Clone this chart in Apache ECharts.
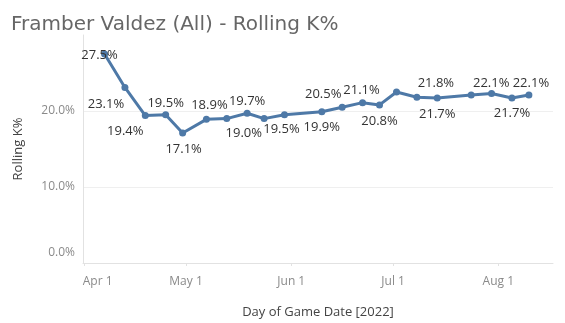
<!DOCTYPE html>
<html>
<head>
<meta charset="utf-8">
<script src="https://cdn.jsdelivr.net/npm/echarts@6/dist/echarts.min.js"></script>
<style>
  html, body { margin: 0; padding: 0; background: #fff; }
  #chart { width: 565px; height: 323px; }
</style>
</head>
<body>
<div id="chart"></div>
<script>
// Start dates and rolling strikeout rate (%) after each start
const startDates = [
  '2022-04-07', '2022-04-13', '2022-04-19', '2022-04-25', '2022-04-30',
  '2022-05-07', '2022-05-13', '2022-05-19', '2022-05-24', '2022-05-30',
  '2022-06-10', '2022-06-16', '2022-06-22', '2022-06-27', '2022-07-02',
  '2022-07-08', '2022-07-14', '2022-07-24', '2022-07-30', '2022-08-05',
  '2022-08-10'
];
const rollingK = [
  27.5, 23.1, 19.4, 19.5, 17.1,
  18.9, 19.0, 19.7, 19.0, 19.5,
  19.9, 20.5, 21.1, 20.8, 22.5,
  21.8, 21.7, 22.1, 22.3, 21.7,
  22.1
];
// Starts whose value is printed next to the marker
const labelled = [
  true, true, true, true, true,
  true, true, true, false, true,
  true, true, true, true, false,
  true, true, true, false, true,
  true
];

// Axis ticks
const xTickDates = ['2022-04-01', '2022-05-01', '2022-06-01', '2022-07-01', '2022-08-01'];
const xTickLabels = ['Apr 1', 'May 1', 'Jun 1', 'Jul 1', 'Aug 1'];
const yTicks = [0, 10, 20];

// Label placement (pixel offsets of the label centre from the marker centre)
const labelOffsets = [
  [-5, 1], [-19, 17], [-20, 16], [0, -12], [1, 16],
  [3, -14], [17, 15], [0, -12], [0, 0], [-3, 14],
  [0, 16], [-19, -13], [-1, -12], [0, 16], [0, 0],
  [19, -14], [0, 16], [20, -12], [0, 0], [0, 15],
  [2, -12]
];
const SYMBOL = 7;

// Dates are placed on a linear axis measured in days since 1 Jan 2022 (UTC)
const DAY = 86400000;
function toDay(s) {
  const p = s.split('-').map(Number);
  return (Date.UTC(p[0], p[1] - 1, p[2]) - Date.UTC(2022, 0, 1)) / DAY;
}
const xTickDays = xTickDates.map(toDay);
const apr1 = toDay('2022-04-01');

const seriesData = startDates.map((d, i) => ({
  value: [toDay(d), rollingK[i]],
  label: {
    show: labelled[i],
    // position is relative to the marker's bounding box corner
    position: [SYMBOL / 2 + labelOffsets[i][0], SYMBOL / 2 + labelOffsets[i][1]],
    align: 'center',
    verticalAlign: 'middle'
  }
}));

const FONT = '"Open Sans", sans-serif';

const chart = echarts.init(document.getElementById('chart'), null, { renderer: 'canvas' });
chart.setOption({
  animation: false,
  backgroundColor: '#fff',
  title: {
    text: 'Framber Valdez (All) - Rolling K%',
    left: 6,
    top: 10,
    textStyle: {
      fontFamily: '"DejaVu Sans", sans-serif',
      fontSize: 20,
      fontWeight: 'normal',
      color: '#666'
    }
  },
  grid: { left: 83, right: 12, top: 35, bottom: 60, outerBoundsMode: 'none' },
  xAxis: {
    type: 'value',
    min: apr1 - 0.35,
    max: apr1 + 138.1,
    name: 'Day of Game Date [2022]',
    nameLocation: 'middle',
    nameGap: 43,
    nameTextStyle: { fontFamily: FONT, fontSize: 13, color: '#444' },
    axisLine: { show: true, lineStyle: { color: '#e2e2e2', width: 1 } },
    axisTick: {
      show: true,
      customValues: xTickDays,
      length: 3,
      lineStyle: { color: '#e2e2e2' }
    },
    axisLabel: {
      customValues: xTickDays,
      margin: 13,
      fontFamily: FONT,
      fontSize: 12,
      color: '#8a8a8a',
      formatter: function (v) {
        const i = xTickDays.indexOf(v);
        const t = i >= 0 ? xTickLabels[i] : '';
        return i === 0 ? '{first|' + t + '}' : t;
      },
      rich: {
        first: { fontFamily: FONT, fontSize: 12, color: '#8a8a8a', padding: [0, 0, 0, 27] }
      }
    },
    splitLine: { show: false }
  },
  yAxis: {
    type: 'value',
    min: 0,
    max: 30,
    interval: 10,
    name: 'Rolling K%',
    nameLocation: 'middle',
    nameGap: 58,
    nameTextStyle: { fontFamily: FONT, fontSize: 13, color: '#444' },
    axisLine: { show: true, lineStyle: { color: '#e2e2e2', width: 1 } },
    axisTick: { show: false },
    axisLabel: {
      showMaxLabel: false,
      margin: 8,
      fontFamily: FONT,
      fontSize: 12,
      color: '#8a8a8a',
      formatter: function (v) {
        if (yTicks.indexOf(v) < 0) return '';
        const t = v.toFixed(1) + '%';
        return v === 0 ? '{zero|' + t + '}' : t;
      },
      rich: {
        zero: { fontFamily: FONT, fontSize: 12, color: '#8a8a8a', padding: [0, 0, 20, 0] }
      }
    },
    splitLine: {
      show: true,
      lineStyle: { color: ['#efefef', '#efefef', '#efefef', 'rgba(0,0,0,0)'], width: 1 }
    }
  },
  series: [{
    type: 'line',
    data: seriesData,
    symbol: 'circle',
    symbolSize: SYMBOL,
    showAllSymbol: true,
    lineStyle: { color: '#4e79a7', width: 3 },
    itemStyle: { color: '#4e79a7' },
    label: {
      fontFamily: FONT,
      fontSize: 13,
      color: '#333',
      formatter: function (p) { return p.value[1].toFixed(1) + '%'; }
    },
    labelLayout: { hideOverlap: false },
    z: 3
  }]
});
</script>
</body>
</html>
